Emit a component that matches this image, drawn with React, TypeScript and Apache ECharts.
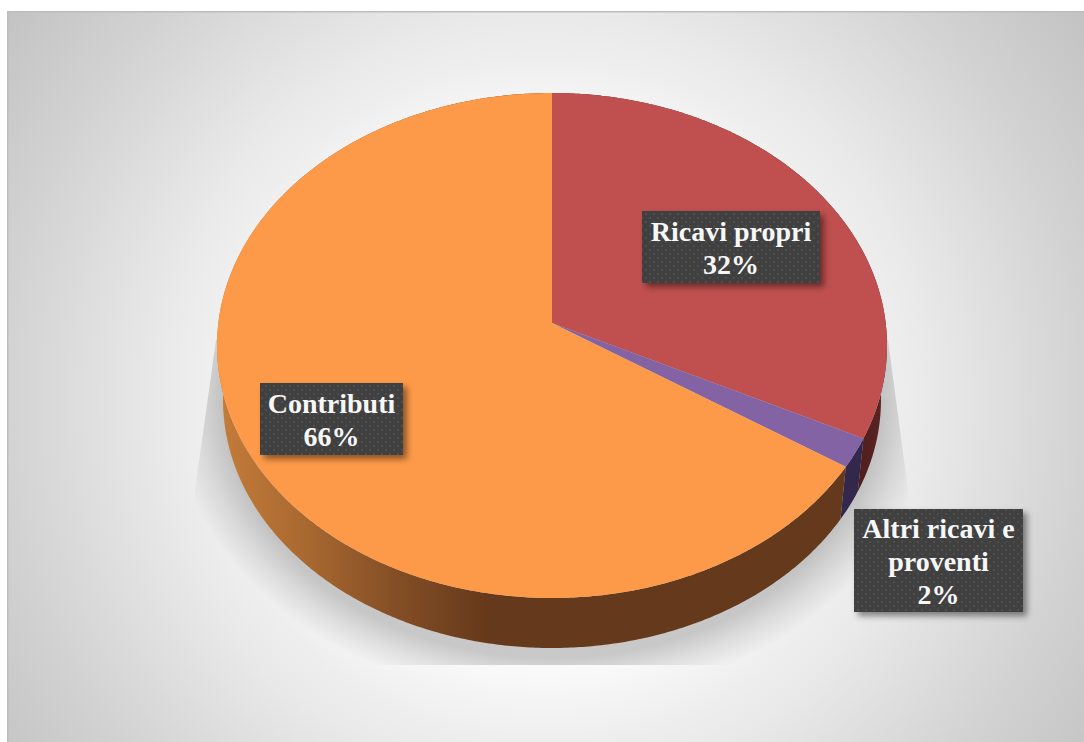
import React, { useEffect, useRef } from "react";
import * as echarts from "echarts";

const categories = ["Ricavi propri", "Altri ricavi e\nproventi", "Contributi"];
const shares = [32.3, 1.9, 65.8];
const topColors = ["#c0504f", "#8363a3", "#fd9a49"];
const labelFont = '"Liberation Serif", serif';

// Layout of the tilted disc (pixels), not data.
const CX = 552;
const TOP_Y = 93;
const APEX_Y = 323;
const BOT_Y = 598;
const HALF_W = 335;
const BASE_K = 0.982;
const BASE_BOTTOM = 648;
const labelBoxes = [
  { x: 642, y: 211, w: 178, h: 72 },
  { x: 854, y: 509, w: 169, h: 103 },
  { x: 260, y: 383, w: 143, h: 72 },
];

// Perspective projection of a unit circle onto the tilted top face.
const midY = (TOP_Y + BOT_Y) / 2;
const b = (2 * APEX_Y - (TOP_Y + BOT_Y)) / (BOT_Y - TOP_Y);
const A = BOT_Y * (1 + b) - APEX_Y;
const C = HALF_W * Math.sqrt(1 - b * b);

function topPoint(deg: number): number[] {
  const t = (deg * Math.PI) / 180;
  const s = Math.sin(t);
  const u = -Math.cos(t);
  const d = 1 + b * u;
  return [CX + (C * s) / d, (A * u + APEX_Y) / d];
}
function basePoint(deg: number): number[] {
  const [x, y] = topPoint(deg);
  const baseCenter = BASE_BOTTOM - ((BOT_Y - TOP_Y) / 2) * BASE_K;
  return [CX + BASE_K * (x - CX), baseCenter + BASE_K * (y - midY)];
}

const total = shares.reduce((s, v) => s + v, 0);
function sliceRange(index: number): number[] {
  let start = 0;
  for (let i = 0; i < index; i++) start += shares[i];
  return [(start / total) * 360, ((start + shares[index]) / total) * 360];
}
function arc(from: number, to: number, fn: (d: number) => number[]): number[][] {
  const pts: number[][] = [];
  const n = Math.max(2, Math.ceil((to - from) / 0.5));
  for (let i = 0; i <= n; i++) pts.push(fn(from + ((to - from) * i) / n));
  return pts;
}

function hGrad(stops: [number, string][]) {
  const x0 = 217;
  const x1 = 887;
  return new echarts.graphic.LinearGradient(
    x0, 0, x1, 0,
    stops.map(([x, color]) => ({ offset: (x - x0) / (x1 - x0), color })),
    true
  );
}
const wallFills = [
  hGrad([[217, "#4f1f1e"], [860, "#4f1f1e"], [887, "#5e2423"]]),
  "#33284c",
  hGrad([[217, "#c47c3a"], [300, "#ab6a31"], [400, "#824d25"], [490, "#65391b"], [887, "#65391b"]]),
];

function dotTile(): HTMLCanvasElement {
  const c = document.createElement("canvas");
  c.width = 8;
  c.height = 8;
  const g = c.getContext("2d")!;
  g.fillStyle = "#404040";
  g.fillRect(0, 0, 8, 8);
  g.fillStyle = "#4e4e4e";
  g.fillRect(1, 1, 2, 2);
  g.fillRect(5, 5, 2, 2);
  return c;
}

function buildOption() {
  const tile = dotTile();
  const data = shares.map((v, i) => ({ name: categories[i], value: v }));
  return {
    animation: false,
    backgroundColor: "#ffffff",
    graphic: {
      elements: [
        {
          type: "rect",
          z: -10,
          shape: { x: 7, y: 11, width: 1077, height: 731 },
          style: {
            fill: new echarts.graphic.RadialGradient(
              545, 400, 663,
              [
                { offset: 0, color: "#ffffff" },
                { offset: 0.4, color: "#fafafa" },
                { offset: 0.52, color: "#eeeeee" },
                { offset: 0.585, color: "#e9e9e9" },
                { offset: 0.81, color: "#d3d3d3" },
                { offset: 1, color: "#c3c3c3" },
              ],
              true
            ),
          },
        },
        { type: "rect", z: -9, shape: { x: 7, y: 11, width: 1077, height: 1.5 }, style: { fill: "#bdbdbd" } },
        { type: "rect", z: -9, shape: { x: 7, y: 11, width: 1.5, height: 731 }, style: { fill: "#bdbdbd" } },
        {
          type: "polygon",
          z: -8,
          shape: {
            points: [
              [216, 340], [552, 102], [888, 340], [908, 490], [908, 665], [195, 665], [195, 490],
            ],
          },
          style: {
            fill: new echarts.graphic.RadialGradient(
              0.5, 0.529, 0.533,
              [
                { offset: 0, color: "rgba(0,0,0,0.2)" },
                { offset: 0.86, color: "rgba(0,0,0,0.2)" },
                { offset: 0.93, color: "rgba(0,0,0,0.09)" },
                { offset: 1, color: "rgba(0,0,0,0)" },
              ]
            ),
          },
        },
      ],
    },
    series: [
      {
        type: "custom",
        name: "walls",
        coordinateSystem: "none",
        z: 1,
        data,
        silent: true,
        renderItem: (params: any) => {
          const [a, e] = sliceRange(params.dataIndex);
          const points = [...arc(a, e, topPoint), ...arc(a, e, basePoint).reverse()];
          return { type: "polygon", shape: { points }, style: { fill: wallFills[params.dataIndex] } };
        },
      },
      {
        type: "custom",
        name: "faces",
        coordinateSystem: "none",
        z: 2,
        data,
        silent: true,
        renderItem: (params: any) => {
          const [a, e] = sliceRange(params.dataIndex);
          const points = [[CX, APEX_Y], ...arc(a, e, topPoint)];
          return { type: "polygon", shape: { points }, style: { fill: topColors[params.dataIndex] } };
        },
      },
      {
        type: "custom",
        name: "labels",
        coordinateSystem: "none",
        z: 3,
        data,
        silent: true,
        renderItem: (params: any) => {
          const i = params.dataIndex;
          const box = labelBoxes[i];
          return {
            type: "group",
            children: [
              {
                type: "rect",
                shape: { x: box.x, y: box.y, width: box.w, height: box.h },
                style: {
                  fill: "#404040",
                  shadowBlur: 6,
                  shadowOffsetX: 4,
                  shadowOffsetY: 4,
                  shadowColor: "rgba(0,0,0,0.45)",
                },
              },
              {
                type: "rect",
                shape: { x: box.x, y: box.y, width: box.w, height: box.h },
                style: { fill: { image: tile, repeat: "repeat" } },
              },
              {
                type: "text",
                style: {
                  text: `${categories[i]}\n${Math.round(shares[i])}%`,
                  x: box.x + box.w / 2,
                  y: box.y + box.h / 2 + 1,
                  align: "center",
                  verticalAlign: "middle",
                  fill: "#f7f7f7",
                  font: `bold 28px ${labelFont}`,
                  lineHeight: 33,
                },
              },
            ],
          };
        },
      },
    ],
  };
}

export default function App() {
  const ref = useRef<HTMLDivElement>(null);
  useEffect(() => {
    const chart = echarts.init(ref.current!, undefined, { renderer: "svg" });
    chart.setOption(buildOption() as any);
    return () => chart.dispose();
  }, []);
  return (
    <div
      ref={ref}
      style={{ position: "fixed", left: 0, top: 0, width: 1084, height: 742 }}
    />
  );
}
